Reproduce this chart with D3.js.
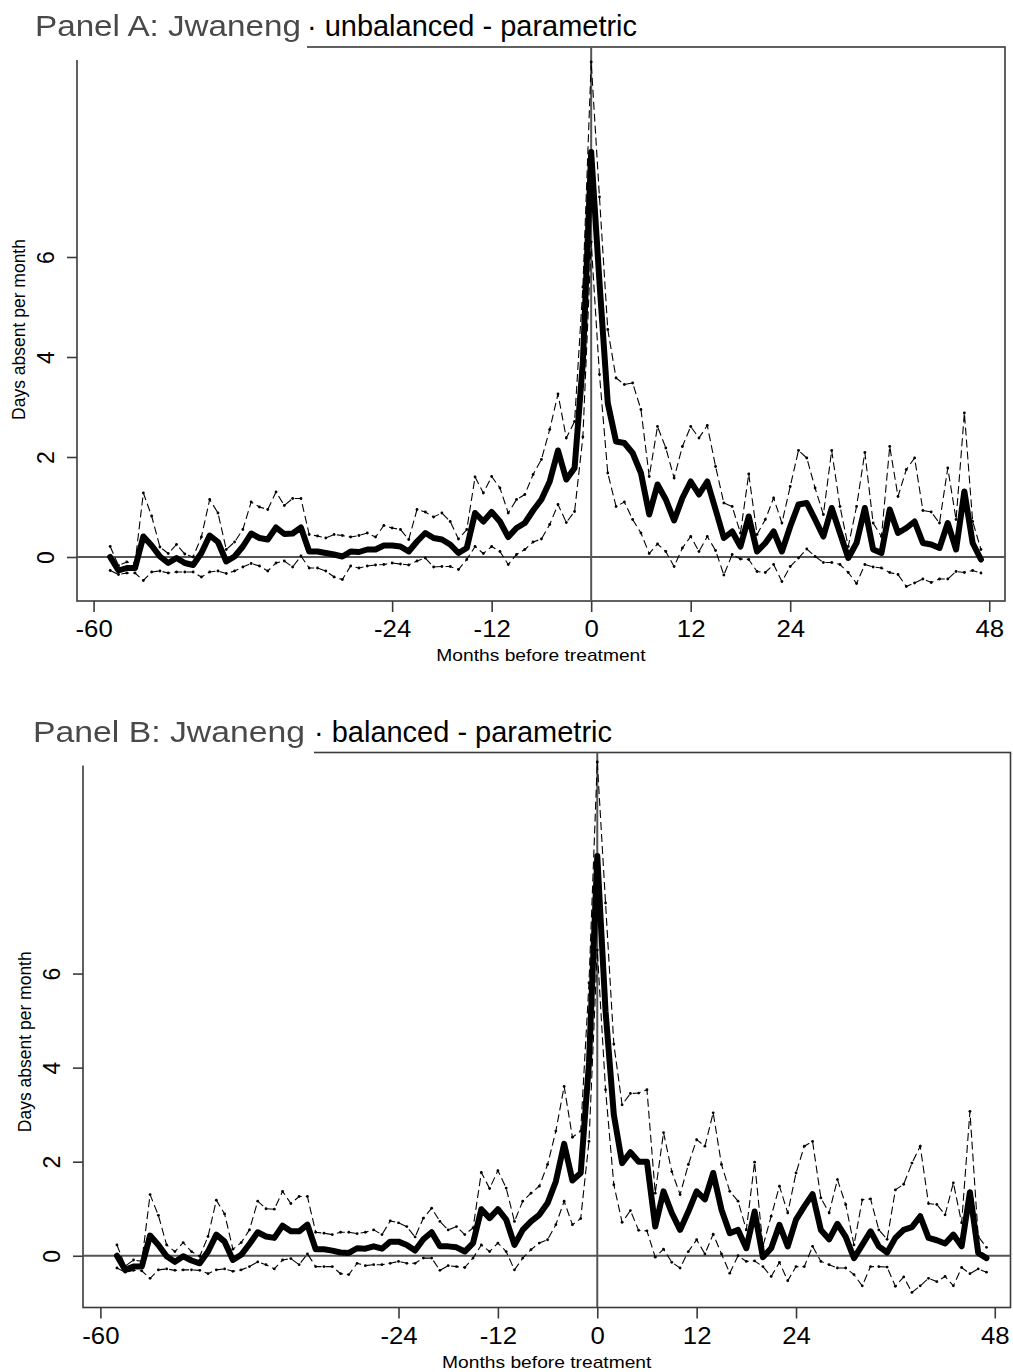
<!DOCTYPE html>
<html>
<head>
<meta charset="utf-8">
<script src="https://cdn.jsdelivr.net/npm/d3@7"></script>
<style>
  html, body { margin: 0; padding: 0; background: #fff; }
  svg { display: block; font-family: "Liberation Sans", Arial, Helvetica, sans-serif; }
</style>
</head>
<body>
<svg id="chart" width="1013" height="1372"></svg>
<script>
// Event-study estimates: days absent per month, by month relative to treatment
const months = d3.range(-58, 48);          // -58 ... 47
const xTicks = [-60, -24, -12, 0, 12, 24, 48];
const yTicks = [0, 2, 4, 6];
const xTitle = "Months before treatment";
const yTitle = "Days absent per month";

// Panel A: unbalanced sample
const meanA = [
  0.00,-0.27,-0.22,-0.22,0.41,0.23,0.01,-0.12,-0.02,-0.12,-0.16,0.08,0.43,0.30,-0.09,0.01,0.21,0.47,0.38,0.35,
  0.59,0.46,0.47,0.59,0.11,0.11,0.08,0.05,0.01,0.11,0.10,0.15,0.15,0.23,0.23,0.21,0.11,0.31,0.48,0.38,
  0.35,0.25,0.08,0.18,0.88,0.71,0.90,0.71,0.40,0.58,0.68,0.93,1.15,1.51,2.13,1.55,1.78,3.90,
  8.10,5.50,3.08,2.31,2.28,2.08,1.68,0.85,1.45,1.15,0.73,1.18,1.51,1.25,1.51,0.95,0.38,0.51,0.21,0.81,
  0.11,0.28,0.51,0.11,0.61,1.05,1.08,0.75,0.41,0.98,0.48,-0.02,0.28,0.98,0.15,0.08,0.95,0.48,0.58,0.71,
  0.28,0.25,0.18,0.68,0.15,1.31,0.28,-0.05
];
const upperA = [
  0.21,-0.17,-0.10,-0.12,1.28,0.82,0.20,0.07,0.25,0.06,0.00,0.40,1.15,0.88,0.15,0.30,0.55,1.10,1.00,0.95,
  1.30,1.03,1.17,1.17,0.45,0.42,0.38,0.45,0.43,0.40,0.43,0.48,0.40,0.63,0.58,0.55,0.35,0.95,0.90,0.80,
  0.88,0.71,0.36,0.55,1.60,1.28,1.61,1.38,0.88,1.15,1.25,1.65,1.95,2.55,3.26,2.38,2.71,5.40,
  9.90,7.20,4.55,3.58,3.45,3.48,2.95,1.61,2.61,2.18,1.58,2.21,2.61,2.38,2.63,1.81,1.08,1.01,0.48,1.66,
  0.45,0.75,1.18,0.68,1.41,2.13,1.98,1.38,0.85,2.13,1.01,0.21,1.01,2.09,0.68,0.41,2.21,1.21,1.75,1.98,
  0.93,0.90,0.68,1.78,0.75,2.88,0.71,0.15
];
const lowerA = [
  -0.27,-0.35,-0.32,-0.32,-0.47,-0.30,-0.28,-0.32,-0.30,-0.30,-0.30,-0.40,-0.30,-0.28,-0.33,-0.28,-0.20,-0.13,-0.18,-0.28,
  -0.12,-0.08,-0.20,0.02,-0.22,-0.22,-0.28,-0.40,-0.45,-0.18,-0.22,-0.18,-0.16,-0.15,-0.12,-0.14,-0.16,-0.08,-0.02,-0.20,
  -0.19,-0.19,-0.25,-0.05,0.21,0.07,0.21,0.11,-0.15,0.05,0.15,0.30,0.36,0.65,1.05,0.69,0.91,2.40,
  6.30,3.65,1.68,1.01,1.10,0.75,0.48,0.07,0.26,0.11,-0.19,0.18,0.41,0.11,0.41,0.13,-0.36,0.05,-0.04,-0.05,
  -0.29,-0.31,-0.15,-0.49,-0.19,-0.02,0.16,0.01,-0.11,-0.11,-0.15,-0.31,-0.53,-0.15,-0.20,-0.22,-0.31,-0.35,-0.59,-0.52,
  -0.44,-0.51,-0.44,-0.44,-0.29,-0.31,-0.27,-0.32
];

// Panel B: balanced sample
const meanB = [
  0.00,-0.30,-0.23,-0.23,0.43,0.23,-0.01,-0.13,-0.01,-0.10,-0.16,0.09,0.45,0.30,-0.09,0.02,0.25,0.50,0.41,0.38,
  0.64,0.52,0.52,0.66,0.14,0.14,0.11,0.07,0.06,0.16,0.15,0.20,0.15,0.30,0.30,0.23,0.11,0.35,0.50,0.20,
  0.20,0.18,0.09,0.27,0.99,0.80,0.99,0.77,0.23,0.55,0.73,0.87,1.12,1.58,2.38,1.60,1.76,4.10,
  8.50,5.20,3.00,1.97,2.20,2.00,2.00,0.62,1.37,0.91,0.55,0.94,1.37,1.20,1.76,0.98,0.48,0.55,0.16,0.94,
  -0.03,0.16,0.66,0.20,0.77,1.05,1.31,0.55,0.35,0.68,0.40,-0.05,0.23,0.52,0.20,0.07,0.38,0.55,0.61,0.84,
  0.38,0.33,0.26,0.45,0.20,1.35,0.06,-0.05
];
const upperB = [
  0.23,-0.22,-0.09,-0.12,1.30,0.86,0.23,0.09,0.28,0.09,-0.01,0.41,1.18,0.89,0.14,0.28,0.55,1.16,1.00,0.99,
  1.37,1.11,1.26,1.26,0.50,0.48,0.45,0.50,0.50,0.47,0.50,0.55,0.45,0.74,0.70,0.62,0.40,0.80,1.01,0.73,
  0.55,0.62,0.45,0.59,1.77,1.43,1.81,1.44,0.73,1.16,1.33,1.48,1.94,2.65,3.60,2.52,2.65,5.80,
  10.50,7.50,4.50,3.21,3.45,3.46,3.53,1.33,2.62,1.79,1.30,1.94,2.47,2.33,3.04,1.94,1.37,1.16,0.55,1.99,
  0.20,0.84,1.48,0.91,1.76,2.33,2.43,1.23,0.91,1.62,1.09,0.23,1.19,1.21,0.55,0.35,1.40,1.52,1.97,2.33,
  1.11,1.09,0.87,1.55,0.70,3.07,0.41,0.18
];
const lowerB = [
  -0.26,-0.35,-0.31,-0.32,-0.48,-0.30,-0.28,-0.31,-0.30,-0.30,-0.31,-0.38,-0.30,-0.28,-0.33,-0.30,-0.23,-0.13,-0.19,-0.28,
  -0.09,-0.06,-0.19,0.04,-0.23,-0.23,-0.23,-0.38,-0.40,-0.16,-0.21,-0.19,-0.19,-0.16,-0.12,-0.16,-0.16,-0.05,-0.05,-0.31,
  -0.21,-0.23,-0.25,-0.05,0.23,0.09,0.27,0.09,-0.30,-0.05,0.13,0.27,0.34,0.66,1.16,0.66,0.79,2.43,
  6.50,3.53,1.51,0.71,0.96,0.54,0.53,-0.03,0.14,-0.14,-0.26,0.09,0.34,0.04,0.46,0.04,-0.37,0.00,-0.12,-0.11,
  -0.23,-0.44,-0.14,-0.53,-0.23,-0.23,0.20,-0.12,-0.19,-0.26,-0.26,-0.40,-0.64,-0.23,-0.23,-0.24,-0.65,-0.45,-0.78,-0.64,
  -0.48,-0.55,-0.44,-0.64,-0.25,-0.38,-0.28,-0.35
];

// Panel layout (pixel frame of each plot region and its axis ranges)
const panels = [
  {
    lead: "Panel A: Jwaneng", rest: "\u00B7 unbalanced - parametric",
    mean: meanA, upper: upperA, lower: lowerA,
    frame: { left: 77, right: 1005, top: 47, bottom: 601 },
    xDomain: [-62, 49.9], yDomain: [-0.88, 10.2],
    leadX: 35, leadW: 266, restX: 307, restW: 330, maskW: 307
  },
  {
    lead: "Panel B: Jwaneng", rest: "\u00B7 balanced - parametric",
    mean: meanB, upper: upperB, lower: lowerB,
    frame: { left: 83, right: 1010.5, top: 752.5, bottom: 1307.5 },
    xDomain: [-62.1, 49.9], yDomain: [-1.1, 10.7],
    leadX: 33, leadW: 272, restX: 314, restW: 298, maskW: 314
  }
];

const svg = d3.select("#chart");
const defs = svg.append("defs");
defs.append("filter").attr("id", "soft")
  .append("feGaussianBlur").attr("stdDeviation", 0.55);

// Stretch a text element horizontally by factor k
function widen(sel, k) {
  sel.each(function () {
    const w = this.getComputedTextLength();
    d3.select(this).attr("textLength", w * k).attr("lengthAdjust", "spacingAndGlyphs");
  });
}

const plainInt = d => String(d);   // hyphen-minus, as in "-60"

panels.forEach(p => {
  const f = p.frame;
  const g = svg.append("g");
  const x = d3.scaleLinear().domain(p.xDomain).range([f.left, f.right]);
  const y = d3.scaleLinear().domain(p.yDomain).range([f.bottom, f.top]);

  // plot frame
  g.append("rect")
    .attr("x", f.left).attr("y", f.top)
    .attr("width", f.right - f.left).attr("height", f.bottom - f.top)
    .attr("fill", "none").attr("stroke", "#3a3a3a").attr("stroke-width", 1.6);

  // reference lines at zero
  g.append("line")
    .attr("x1", f.left).attr("x2", f.right)
    .attr("y1", y(0)).attr("y2", y(0))
    .attr("stroke", "#555").attr("stroke-width", 2);
  g.append("line")
    .attr("x1", x(0)).attr("x2", x(0))
    .attr("y1", f.bottom).attr("y2", f.top)
    .attr("stroke", "#555").attr("stroke-width", 2);

  // x axis
  const xAxis = g.append("g")
    .attr("transform", `translate(0,${f.bottom})`)
    .call(d3.axisBottom(x).tickValues(xTicks).tickSize(11).tickPadding(9).tickFormat(plainInt));
  xAxis.select(".domain").remove();
  xAxis.selectAll(".tick line").attr("stroke", "#3a3a3a").attr("stroke-width", 1.6);
  xAxis.selectAll(".tick text")
    .attr("font-size", 23).attr("fill", "#000")
    .attr("font-family", "Liberation Sans, Arial, sans-serif")
    .call(widen, 1.12);

  // y axis with rotated labels
  const yAxis = g.append("g")
    .attr("transform", `translate(${f.left},0)`)
    .call(d3.axisLeft(y).tickValues(yTicks).tickSize(10).tickFormat(plainInt));
  yAxis.select(".domain").remove();
  yAxis.selectAll(".tick line").attr("stroke", "#3a3a3a").attr("stroke-width", 1.6);
  yAxis.selectAll(".tick text")
    .attr("font-size", 23).attr("fill", "#000")
    .attr("font-family", "Liberation Sans, Arial, sans-serif")
    .attr("x", null).attr("dy", null)
    .attr("text-anchor", "middle")
    .attr("transform", "translate(-23,0) rotate(-90)");

  // axis titles
  g.append("text")
    .attr("x", (f.left + f.right) / 2).attr("y", f.bottom + 60)
    .attr("text-anchor", "middle").attr("font-size", 17)
    .text(xTitle).call(widen, 1.13);
  g.append("text")
    .attr("transform", `translate(${f.left - 52},${y(4.55)}) rotate(-90)`)
    .attr("text-anchor", "middle").attr("font-size", 17.5)
    .text(yTitle);

  // confidence bounds: thin dashed lines with small point markers
  const line = d3.line().x((d, i) => x(months[i])).y(d => y(d));
  [p.upper, p.lower].forEach(series => {
    g.append("path")
      .attr("d", line(series))
      .attr("fill", "none").attr("stroke", "#000")
      .attr("stroke-width", 1.1).attr("stroke-dasharray", "8,4");
    g.append("g").selectAll("circle")
      .data(series).join("circle")
      .attr("cx", (d, i) => x(months[i])).attr("cy", d => y(d))
      .attr("r", 1.4).attr("fill", "#000");
  });

  // point estimates: thick solid line
  g.append("path")
    .attr("d", line(p.mean))
    .attr("fill", "none").attr("stroke", "#000")
    .attr("stroke-width", 6)
    .attr("stroke-linejoin", "round").attr("stroke-linecap", "round");

  // title block: pasted label box over the top-left corner of the frame
  g.append("rect")
    .attr("x", 0).attr("y", f.top - 47)
    .attr("width", p.maskW).attr("height", 60)
    .attr("fill", "#fff");
  g.append("text")
    .attr("x", p.leadX).attr("y", f.top - 11)
    .attr("font-size", 29).attr("fill", "#4a4a4a")
    .attr("filter", "url(#soft)")
    .attr("textLength", p.leadW).attr("lengthAdjust", "spacingAndGlyphs")
    .text(p.lead);
  g.append("text")
    .attr("x", p.restX).attr("y", f.top - 11)
    .attr("font-size", 29).attr("fill", "#000")
    .attr("textLength", p.restW).attr("lengthAdjust", "spacingAndGlyphs")
    .text(p.rest);
});
</script>
</body>
</html>
